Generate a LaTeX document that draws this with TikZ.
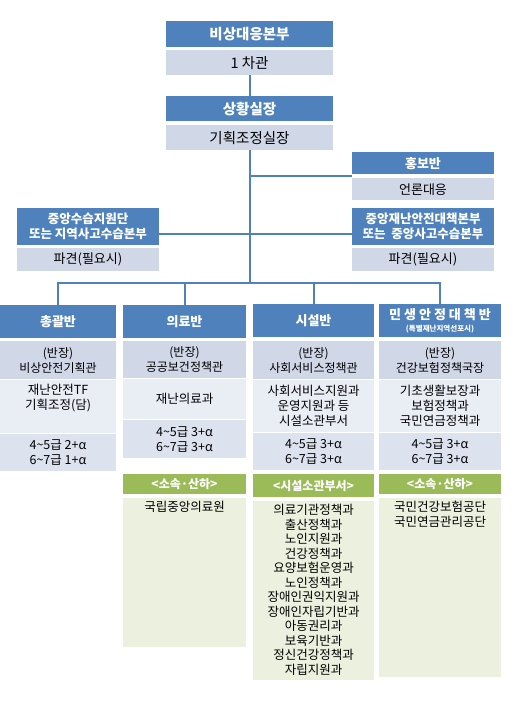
\documentclass[tikz,border=0pt]{standalone}
\usepackage{fontspec}
\setmainfont{Noto Sans CJK KR}
\usepackage{tikz}
\usetikzlibrary{positioning}
\usetikzlibrary{calc}

\definecolor{hdblue}{HTML}{4F81BD}
\definecolor{subblue}{HTML}{D0D8E8}
\definecolor{rowblue}{HTML}{E9EDF4}
\definecolor{gradeblue}{HTML}{DCE3EF}
\definecolor{grnhead}{HTML}{9BBB59}
\definecolor{grnbody}{HTML}{EBF1DE}

\newcommand{\tld}{\textasciitilde}

\begin{document}
\begin{tikzpicture}[x=1pt, y=-1pt, inner sep=0pt,
        head_style/.style={rectangle,fill=hdblue,text=white,align=center,anchor=north,font=\bfseries\fontsize{13}{15}\selectfont},
        sub_style/.style={rectangle,fill=subblue,align=center,anchor=north,font=\fontsize{13}{15}\selectfont},
        row_style/.style={rectangle,fill=rowblue,align=center,anchor=north,font=\fontsize{12.5}{15}\selectfont},
        grade_style/.style={rectangle,fill=gradeblue,align=center,anchor=north,font=\fontsize{12.5}{15}\selectfont},
        green_head_style/.style={rectangle,fill=grnhead,text=white,align=center,anchor=north,font=\bfseries\fontsize{12}{14}\selectfont},
        green_body_style/.style={rectangle,fill=grnbody,anchor=north},
        list_style/.style={align=center,anchor=north,font=\fontsize{12.5}{14.5}\selectfont},
        link_style/.style={draw=hdblue,line width=2pt}]

        \useasboundingbox (0,0) rectangle (517,706);

        % top of the chart
        \node [head_style,minimum width=167,minimum height=26,font=\bfseries\fontsize{14.5}{16}\selectfont](hq) at (249.5,21) {비상대응본부};
        \node [sub_style,minimum width=167,minimum height=25,font=\fontsize{14.5}{16}\selectfont](hq_sub) at (249.5,50) {1 차관};
        \node [head_style,minimum width=167,minimum height=25,font=\bfseries\fontsize{14.5}{16}\selectfont](sit) at (249.5,96) {상황실장};
        \node [sub_style,minimum width=167,minimum height=25,font=\fontsize{14.5}{16}\selectfont](sit_sub) at (249.5,125) {기획조정실장};

        \node [head_style,minimum width=142,minimum height=22](pr) at (423,152) {홍보반};
        \node [sub_style,minimum width=142,minimum height=22](pr_sub) at (423,178) {언론대응};

        \node [head_style,minimum width=142,minimum height=37,font=\bfseries\fontsize{12.5}{15}\selectfont](sup) at (88,208) {중앙수습지원단\\또는 지역사고수습본부};
        \node [sub_style,minimum width=142,minimum height=23](sup_sub) at (88,248) {파견(필요시)};

        \node [head_style,minimum width=142,minimum height=37,font=\bfseries\fontsize{12.5}{15}\selectfont](cdh) at (423,208) {중앙재난안전대책본부\\또는\ \ 중앙사고수습본부};
        \node [sub_style,minimum width=142,minimum height=23](cdh_sub) at (423,248) {파견(필요시)};

        % column 1
        \node [head_style,minimum width=116,minimum height=33](h1) at (58,305) {총괄반};
        \node [sub_style,minimum width=116,minimum height=38,font=\fontsize{12}{15}\selectfont](c1) at (58,341) {(반장)\\비상안전기획관};
        \node [row_style,minimum width=116,minimum height=53](d1) at (58,380) {재난안전TF\\기획조정(담)\\[4pt]};
        \node [grade_style,minimum width=116,minimum height=37](g1) at (58,434) {4\tld5급 2+α\\6\tld7급 1+α};

        % column 2
        \node [head_style,minimum width=123,minimum height=33](h2) at (184.5,305) {의료반};
        \node [sub_style,minimum width=123,minimum height=37,font=\fontsize{12}{15}\selectfont](c2) at (184.5,341) {(반장)\\공공보건정책관};
        \node [row_style,minimum width=123,minimum height=40](d2) at (184.5,379) {재난의료과};
        \node [grade_style,minimum width=123,minimum height=38](g2) at (184.5,420) {4\tld5급 3+α\\6\tld7급 3+α};
        \node [green_head_style,minimum width=123,minimum height=20](s2) at (184.5,474) {<소속·산하>};
        \node [green_body_style,minimum width=123,minimum height=149](b2) at (184.5,498) {};
        \node [list_style](b2_txt) at ($(b2.north)+(0,3)$) {국립중앙의료원};

        % column 3
        \node [head_style,minimum width=121,minimum height=33](h3) at (313.5,304) {시설반};
        \node [sub_style,minimum width=121,minimum height=38,font=\fontsize{12}{15}\selectfont](c3) at (313.5,341) {(반장)\\사회서비스정책관};
        \node [row_style,minimum width=121,minimum height=52](d3) at (313.5,380) {사회서비스지원과\\운영지원과 등\\시설소관부서};
        \node [grade_style,minimum width=121,minimum height=37](g3) at (313.5,433) {4\tld5급 3+α\\6\tld7급 3+α};
        \node [green_head_style,minimum width=121,minimum height=23](s3) at (313.5,474) {<시설소관부서>};
        \node [green_body_style,minimum width=121,minimum height=179](b3) at (313.5,501) {};
        \node [list_style](b3_txt) at ($(b3.north)+(0,3)$) {의료기관정책과\\출산정책과\\노인지원과\\건강정책과\\요양보험운영과\\노인정책과\\장애인권익지원과\\장애인자립기반과\\아동권리과\\보육기반과\\정신건강정책과\\자립지원과};

        % column 4
        \node [head_style,minimum width=122,minimum height=33](h4) at (440,304) {민 생 안 정 대 책 반\\[-3pt]{\fontsize{7.5}{9}\selectfont (특별재난지역선포시)}};
        \node [sub_style,minimum width=122,minimum height=38,font=\fontsize{12}{15}\selectfont](c4) at (440,341) {(반장)\\건강보험정책국장};
        \node [row_style,minimum width=122,minimum height=52](d4) at (440,380) {기초생활보장과\\보험정책과\\국민연금정책과};
        \node [grade_style,minimum width=122,minimum height=37](g4) at (440,433) {4\tld5급 3+α\\6\tld7급 3+α};
        \node [green_head_style,minimum width=122,minimum height=20](s4) at (440,474) {<소속·산하>};
        \node [green_body_style,minimum width=122,minimum height=179](b4) at (440,498) {};
        \node [list_style](b4_txt) at ($(b4.north)+(0,3)$) {국민건강보험공단\\국민연금관리공단};

        % connectors
        \coordinate (bus) at (249.5,283);
        \coordinate (pr_in) at (352,176);

        \draw [link_style] (hq_sub) -- (sit);
        \draw [link_style] (sit_sub.south) -- (bus);
        \draw [link_style] (sit_sub.south) |- (pr_in);
        \draw [link_style] ([yshift=-7pt]sup.east) -- ([yshift=-7pt]cdh.west);
        \foreach \col in {h1,h2,h3,h4}
            \draw [link_style] (bus) -| (\col.north);

\end{tikzpicture}
\end{document}
